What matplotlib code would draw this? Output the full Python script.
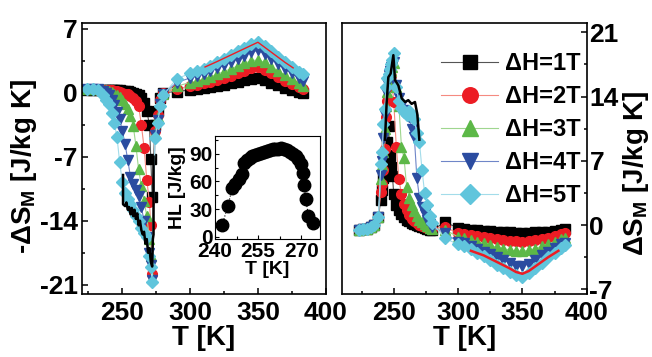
import numpy as np
import matplotlib.pyplot as plt
from matplotlib.ticker import MultipleLocator

plt.rcParams['font.family'] = ['Liberation Sans', 'DejaVu Sans']
plt.rcParams['font.weight'] = 'bold'
plt.rcParams['axes.labelweight'] = 'bold'
plt.rcParams['axes.unicode_minus'] = False
plt.rcParams['mathtext.fontset'] = 'custom'
plt.rcParams['mathtext.rm'] = 'Liberation Sans:bold'
plt.rcParams['mathtext.it'] = 'Liberation Sans:bold'
plt.rcParams['mathtext.bf'] = 'Liberation Sans:bold'
plt.rcParams['mathtext.default'] = 'bf'

# === DATA === #
fields = ['ΔH=1T', 'ΔH=2T', 'ΔH=3T', 'ΔH=4T', 'ΔH=5T']

# left panel: -dS_M [J/kg K]
T_left = [224, 228, 232, 236, 238, 240, 242, 244, 246, 248, 250, 252, 254, 256, 258,
          260, 262, 264, 266, 268, 270, 271, 272, 274, 276, 278, 280, 290,
          300, 305, 310, 315, 320, 325, 330, 335, 340, 345, 350, 355, 360, 365, 370,
          375, 380, 383]
left_1T = [0.3, 0.3, 0.3, 0.3, 0.3, 0.3, 0.3, 0.3, 0.3, 0.25, 0.2, 0.2, 0.15, 0.1, 0.0,
           -0.1, -0.3, -0.6, -1.1, -2.0, -3.5, -7.3, -11.4, -3.5, -2.0, -0.6, 0.0, 0.1,
           0.3, 0.4, 0.5, 0.6, 0.7, 0.85, 1.0, 1.2, 1.35, 1.5, 1.55, 1.35, 1.1, 0.8, 0.55,
           0.3, 0.1, 0.0]
left_2T = [0.35, 0.35, 0.3, 0.3, 0.3, 0.3, 0.25, 0.2, 0.15, 0.1, 0.0, -0.1, -0.2, -0.4, -0.6,
           -0.9, -1.5, -3.5, -6.0, -9.5, -12.0, -14.5, -19.8, -4.2, -2.4, -0.8, 0.0, 0.4,
           0.7, 0.85, 1.0, 1.2, 1.4, 1.6, 1.85, 2.1, 2.4, 2.65, 2.8, 2.5, 2.1, 1.7, 1.3,
           0.95, 0.6, 0.4]
left_3T = [0.4, 0.4, 0.35, 0.3, 0.25, 0.2, 0.1, -0.1, -0.3, -0.5, -0.8, -1.2, -1.8, -2.6, -3.6,
           -5.8, -8.4, -10.2, -11.8, -13.5, -16.0, -17.8, -20.3, -4.4, -2.7, -1.0, -0.1, 0.7,
           1.1, 1.3, 1.5, 1.75, 2.0, 2.3, 2.6, 2.9, 3.2, 3.45, 3.6, 3.3, 2.85, 2.35, 1.9,
           1.45, 1.0, 0.7]
left_4T = [0.4, 0.4, 0.35, 0.2, 0.0, -0.3, -0.8, -1.4, -2.1, -2.9, -4.2, -5.6, -7.4, -9.2, -10.0,
           -10.6, -11.3, -12.5, -14.0, -15.8, -17.5, -18.8, -20.5, -4.6, -3.0, -1.2, -0.2, 1.1,
           1.6, 1.8, 2.05, 2.35, 2.65, 3.0, 3.35, 3.7, 4.05, 4.4, 4.6, 4.2, 3.7, 3.1, 2.6,
           2.1, 1.6, 1.3]
left_5T = [0.4, 0.4, 0.3, -0.3, -0.8, -1.3, -2.2, -3.3, -4.8, -7.6, -9.8, -11.0, -11.6, -12.2, -12.8,
           -13.5, -14.0, -14.8, -15.3, -15.8, -17.8, -19.0, -20.7, -5.0, -3.3, -1.5, -0.3, 1.5,
           2.1, 2.35, 2.6, 2.95, 3.3, 3.7, 4.1, 4.5, 4.9, 5.3, 5.5, 5.1, 4.5, 3.9, 3.3,
           2.8, 2.3, 2.0]

# black measured curve and red curve, left panel
T_left_black = [250.5, 250.5, 252, 253, 254, 255, 256, 257, 258, 259, 260, 261, 262, 263,
                264, 265, 266, 267, 268, 269, 270, 271, 272, 272.5, 273, 273]
v_left_black = [-9.0, -12.2, -12.4, -12.0, -12.8, -12.5, -13.3, -12.6, -13.5, -12.8, -13.8,
                -13.2, -14.5, -14.0, -15.0, -15.5, -15.2, -16.5, -16.0, -17.5, -17.0, -18.5,
                -19.0, -16.0, -15.5, -7.0]
T_left_red = [311, 320, 330, 340, 350, 360, 370, 376]
v_left_red = [2.8, 3.4, 4.1, 4.8, 5.5, 4.4, 3.3, 2.7]

# right panel: dS_M [J/kg K]
T_right = [223, 226, 229, 232, 235, 238, 240, 241, 242, 243, 244, 245, 246, 247, 248, 249, 250,
           252, 254, 256, 258, 260, 262, 264, 266, 268, 270, 272, 274, 276, 278, 280, 290,
           300, 305, 310, 315, 320, 325, 330, 335, 340, 345, 350, 355, 360, 365, 370,
           375, 380, 383]
right_1T = [-0.5, -0.45, -0.4, -0.2, 0.0, 0.9, 2.7, 3.8, 5.1, 6.5, 7.6, 9.0, 10.8, 7.5, 6.3, 5.3, 3.4,
            2.2, 1.6, 1.2, 0.9, 0.6, 0.4, 0.2, 0.1, 0.0, -0.1, -0.2, -0.3, -0.4, -0.5, -0.5, 0.3,
            -0.3, -0.4, -0.5, -0.55, -0.6, -0.65, -0.7, -0.75, -0.8, -0.85, -0.85, -0.85, -0.8,
            -0.75, -0.7, -0.6, -0.5, -0.4]
right_2T = [-0.5, -0.45, -0.4, -0.2, 0.0, 0.9, 3.6, 4.5, 6.0, 8.3, 11.8, 13.5, 15.2, 15.8, 16.2, 15.0, 13.4,
            8.5, 5.0, 3.4, 2.3, 1.6, 1.1, 0.7, 0.4, 0.2, 0.0, -0.1, -0.2, -0.3, -0.4, -0.4, -0.2,
            -0.9, -1.0, -1.1, -1.2, -1.3, -1.4, -1.5, -1.6, -1.7, -1.75, -1.8, -1.75, -1.65,
            -1.5, -1.35, -1.2, -1.0, -0.9]
right_3T = [-0.5, -0.45, -0.4, -0.2, 0.0, 0.9, 5.0, 6.5, 8.0, 10.5, 13.0, 14.5, 15.5, 16.3, 16.8, 17.2, 17.6,
            15.0, 13.0, 8.5, 7.3, 4.2, 3.0, 2.2, 1.5, 1.0, 0.6, 0.3, 0.1, -0.1, -0.3, -0.4, -0.5,
            -1.3, -1.45, -1.6, -1.8, -2.0, -2.2, -2.4, -2.55, -2.7, -2.8, -2.85, -2.75, -2.55,
            -2.3, -2.05, -1.8, -1.55, -1.4]
right_4T = [-0.5, -0.45, -0.4, -0.2, 0.0, 0.9, 5.5, 7.0, 9.5, 12.0, 14.5, 15.5, 16.3, 16.8, 17.2, 17.5, 17.8,
            15.2, 13.8, 13.0, 12.5, 12.0, 11.8, 10.5, 9.6, 5.1, 3.0, 2.0, 1.2, 0.6, 0.1, -0.2, -0.9,
            -1.8, -2.0, -2.3, -2.6, -2.9, -3.2, -3.5, -3.8, -4.1, -4.4, -4.5, -4.2, -3.8,
            -3.3, -2.9, -2.5, -2.1, -1.9]
right_5T = [-0.5, -0.45, -0.4, -0.2, 0.0, 0.9, 6.7, 8.0, 11.0, 12.6, 15.0, 16.0, 16.5, 17.0, 17.5, 18.0, 18.7,
            15.0, 13.5, 12.8, 12.3, 12.0, 12.4, 12.0, 11.5, 10.0, 9.0, 6.0, 3.5, 2.2, 1.0, 0.2, -1.45,
            -2.1, -2.3, -2.6, -3.0, -3.4, -3.8, -4.3, -4.7, -5.1, -5.4, -5.6, -5.2, -4.7,
            -4.1, -3.5, -3.0, -2.5, -2.2]

T_right_black = [243.2, 244.5, 245.8, 247.6, 249.7, 251, 253.6, 256.2, 258.8, 261.3, 263.9,
                 266.5, 268.3, 269.9]
v_right_black = [9.3, 13.4, 16.1, 16.5, 18.5, 15.8, 15.2, 13.8, 13.4, 13.6, 13.2, 13.4, 12.1, 9.3]
T_right_red = [310, 320, 330, 340, 345, 350, 355, 360, 370, 378]
v_right_red = [-2.8, -3.3, -4.0, -4.7, -5.1, -5.3, -5.0, -4.5, -3.5, -2.8]

# inset: hysteresis loss
T_inset = [242.5, 244.5, 246, 247, 248.5, 249.5, 250, 251, 252, 253, 254, 255, 256, 257, 258,
           259, 260, 261, 262, 263, 264, 265, 266, 267, 268, 269, 270, 270.5, 271, 271.5,
           272.5, 274]
HL_inset = [13, 34, 53, 57, 63, 68, 80, 83, 85, 87, 89, 90, 91, 92, 93, 94, 95, 95, 95, 96,
            95, 94, 92, 90, 87, 84, 79, 69, 56, 41, 23, 15]

# === STYLE === #
markers = ['s', 'o', '^', 'v', 'D']
mcolors = ['#000000', '#ec1c24', '#5cb847', '#2b4ca0', '#60c5dc']
lcolors = ['#555555', '#f58a80', '#9fd68f', '#6f86c8', '#a3dcea']
msizes = [6.5, 7, 7, 7, 6.5]


def bold_ticks(ax):
    for lab in ax.get_xticklabels() + ax.get_yticklabels():
        lab.set_fontweight('bold')


def style_axis(ax):
    ax.xaxis.set_major_locator(MultipleLocator(50))
    ax.xaxis.set_minor_locator(MultipleLocator(25))
    ax.yaxis.set_major_locator(MultipleLocator(7))
    ax.yaxis.set_minor_locator(MultipleLocator(3.5))
    ax.tick_params(which='both', direction='in', width=1.1, labelsize=19)
    ax.tick_params(which='major', length=4)
    ax.tick_params(which='minor', length=2.5)
    for s in ax.spines.values():
        s.set_linewidth(1.2)
    ax.set_xlabel('T [K]', fontsize=20, fontweight='bold', labelpad=0)


fig = plt.figure(figsize=(6.52, 3.57), dpi=100)

# === LEFT PANEL === #
ax1 = fig.add_axes([0.1253, 0.1765, 0.3742, 0.759])
for i, ys in enumerate([left_1T, left_2T, left_3T, left_4T, left_5T]):
    ax1.plot(T_left, ys, '-', color=lcolors[i], lw=0.8, marker=markers[i], ms=msizes[i],
             mfc=mcolors[i], mec=mcolors[i])
ax1.plot(T_left_black, v_left_black, '-', color='black', lw=1.8)
ax1.plot(T_left_red, v_left_red, '-', color='#ec1c24', lw=1.0)
style_axis(ax1)
ax1.set_xlim(220, 400)
ax1.set_ylim(-22, 7.6)
ax1.tick_params(axis='y', pad=3)
ax1.tick_params(axis='x', pad=5)
ax1.set_ylabel('-ΔS$_M$ [J/kg K]', fontsize=20, fontweight='bold')
ax1.yaxis.set_label_coords(-0.175, 0.47)
bold_ticks(ax1)

# === INSET === #
axi = fig.add_axes([0.3298, 0.3297, 0.161, 0.289])
axi.plot(T_inset, HL_inset, ':', color='black', lw=0.8, marker='o', ms=9)
axi.set_xlim(240, 276.5)
axi.set_ylim(-2.5, 109)
axi.xaxis.set_major_locator(MultipleLocator(15))
axi.xaxis.set_minor_locator(MultipleLocator(7.5))
axi.yaxis.set_major_locator(MultipleLocator(30))
axi.yaxis.set_minor_locator(MultipleLocator(15))
axi.tick_params(which='both', direction='in', labelsize=15, pad=2, width=0.8)
axi.tick_params(which='major', length=3)
axi.tick_params(which='minor', length=2)
for s in axi.spines.values():
    s.set_linewidth(0.8)
axi.set_xlabel('T [K]', fontsize=14, fontweight='bold', labelpad=0)
axi.set_ylabel('HL [J/kg]', fontsize=14, fontweight='bold', labelpad=2)
bold_ticks(axi)

# === RIGHT PANEL === #
ax2 = fig.add_axes([0.525, 0.1765, 0.3748, 0.759])
for i, ys in enumerate([right_1T, right_2T, right_3T, right_4T, right_5T]):
    ax2.plot(T_right, ys, '-', color=lcolors[i], lw=0.8, marker=markers[i], ms=msizes[i],
             mfc=mcolors[i], mec=mcolors[i], label=fields[i])
ax2.plot(T_right_black, v_right_black, '-', color='black', lw=1.8)
ax2.plot(T_right_red, v_right_red, '-', color='#ec1c24', lw=1.8)
style_axis(ax2)
ax2.set_xlim(210, 400)
ax2.set_ylim(-7.5, 22)
ax2.yaxis.tick_right()
ax2.yaxis.set_label_position('right')
ax2.tick_params(axis='y', pad=2)
ax2.tick_params(axis='x', pad=5)
ax2.set_ylabel('ΔS$_M$ [J/kg K]', fontsize=20, fontweight='bold')
ax2.yaxis.set_label_coords(1.14, 0.445)
bold_ticks(ax2)

leg = ax2.legend(loc='upper right', bbox_to_anchor=(0.975, 0.892), frameon=False,
                 prop={'size': 17, 'weight': 'bold'},
                 handlelength=2.4, handletextpad=0.3, labelspacing=0.42, markerscale=1.6,
                 borderpad=0, borderaxespad=0)

fig.savefig('out.png', dpi=100)
